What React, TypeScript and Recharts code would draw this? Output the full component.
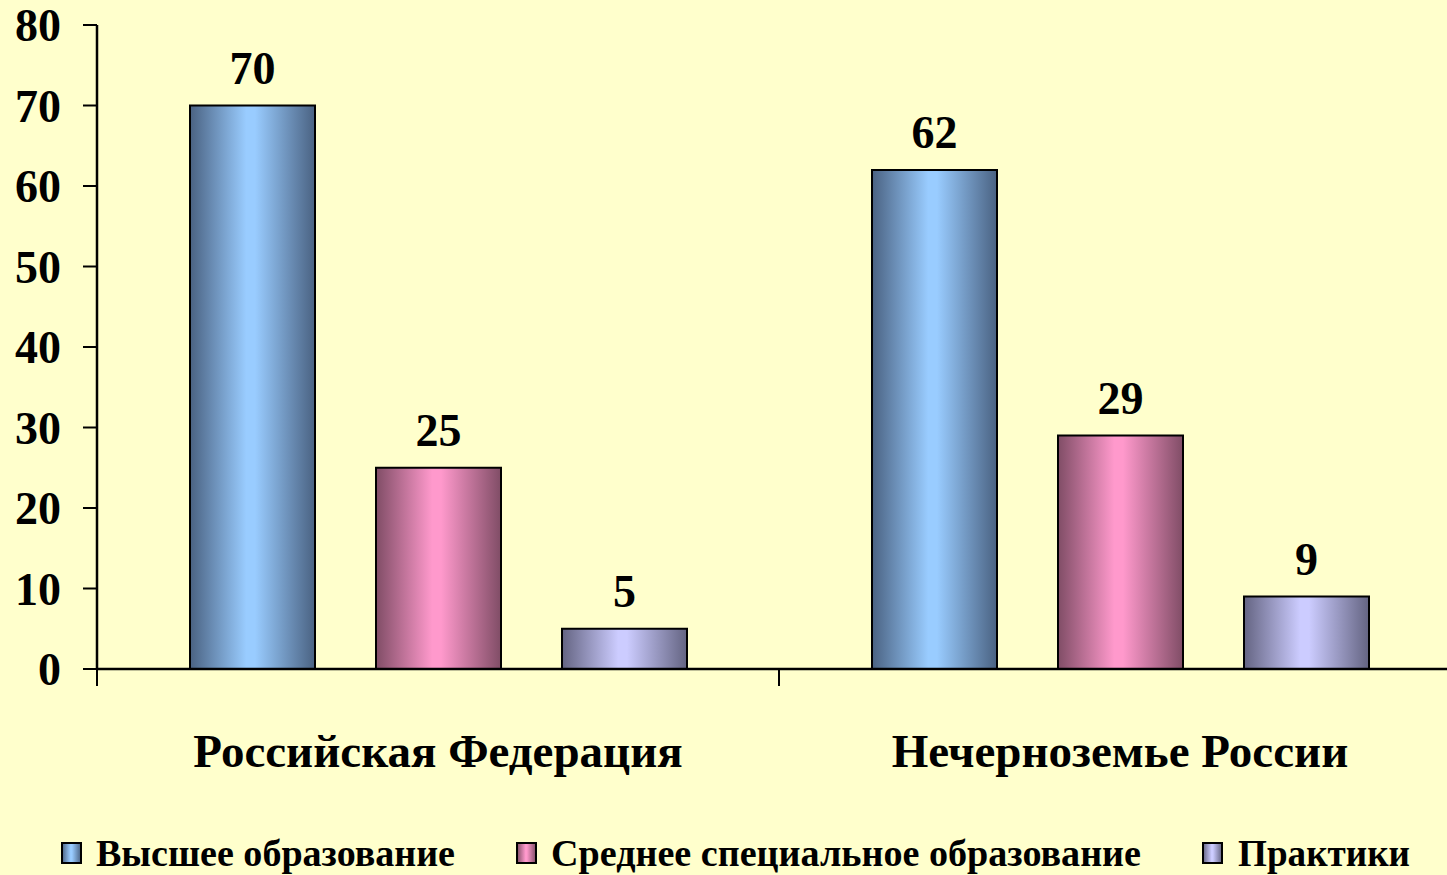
import React from 'react';
import { BarChart, Bar, XAxis, YAxis, LabelList, Legend } from 'recharts';

const categories = ['Российская Федерация', 'Нечерноземье России'];
const higherEducation = [70, 62];
const secondarySpecial = [25, 29];
const practitioners = [5, 9];
const seriesNames = ['Высшее образование', 'Среднее специальное образование', 'Практики'];
const yTicks = [0, 10, 20, 30, 40, 50, 60, 70, 80];

const data = categories.map((c, i) => ({
  name: c,
  higher: higherEducation[i],
  secondary: secondarySpecial[i],
  practice: practitioners[i],
}));

const FONT = "'Liberation Serif', 'Times New Roman', serif";
const BG = '#FFFFCC';
const CHART_W = 1461;
const CHART_H = 875;
const Y_W = 97;
const HALF_BAND = (CHART_W - Y_W) / categories.length / 2;

const gradients = [
  { id: 'gBlue', dark: '#4a6282', light: '#99ccff' },
  { id: 'gPink', dark: '#804d66', light: '#ff99cc' },
  { id: 'gLav', dark: '#646482', light: '#ccccff' },
];

const renderGradients = (prefix: string) =>
  gradients.map((g) => (
    <linearGradient key={g.id} id={prefix + g.id} x1="0" y1="0" x2="1" y2="0">
      <stop offset="0" stopColor={g.dark} />
      <stop offset="0.45" stopColor={g.light} />
      <stop offset="0.52" stopColor={g.light} />
      <stop offset="1" stopColor={g.dark} />
    </linearGradient>
  ));

const CategoryTick = (props: any) => {
  const { x, y, payload } = props;
  return (
    <g>
      <line x1={x - HALF_BAND} y1={y} x2={x - HALF_BAND} y2={y + 17} stroke="#000" strokeWidth={2} />
      <text x={x} y={y + 98} textAnchor="middle" fontFamily={FONT} fontWeight="bold" fontSize={47} fill="#000">
        {payload.value}
      </text>
    </g>
  );
};

const legendLayout = [
  { sq: 62, tx: 96, len: 359 },
  { sq: 517, tx: 551, len: 590 },
  { sq: 1203, tx: 1238, len: 172 },
];

const LegendContent = () => (
  <svg width={1447} height={60} style={{ display: 'block' }}>
    <defs>{renderGradients('lg')}</defs>
    {seriesNames.map((n, i) => (
      <g key={n}>
        <rect x={legendLayout[i].sq} y={28} width={19} height={20} fill={`url(#lg${gradients[i].id})`} stroke="#000" strokeWidth={2} />
        <text
          x={legendLayout[i].tx}
          y={51}
          fontFamily={FONT}
          fontWeight="bold"
          fontSize={38}
          fill="#000"
          textLength={legendLayout[i].len}
          lengthAdjust="spacingAndGlyphs"
        >
          {n}
        </text>
      </g>
    ))}
  </svg>
);

const seriesKeys = ['higher', 'secondary', 'practice'];

export default function App() {
  return (
    <div style={{ position: 'absolute', left: 0, top: 0, width: 1447, height: 875, overflow: 'hidden', background: BG }}>
      <BarChart
        width={CHART_W}
        height={CHART_H}
        data={data}
        margin={{ top: 25, right: 0, left: 0, bottom: 0 }}
        barCategoryGap={93}
        barGap={61}
      >
        <defs>{renderGradients('b')}</defs>
        <YAxis
          width={Y_W}
          domain={[0, 80]}
          ticks={yTicks}
          interval={0}
          axisLine={{ stroke: '#000', strokeWidth: 2.5 }}
          tickLine={{ stroke: '#000', strokeWidth: 2 }}
          tickSize={14}
          tickMargin={22}
          tick={{ fontFamily: FONT, fontWeight: 'bold', fontSize: 46, fill: '#000' }}
        />
        <XAxis
          dataKey="name"
          height={146}
          axisLine={{ stroke: '#000', strokeWidth: 2.5 }}
          tickLine={false}
          tickSize={0}
          tickMargin={0}
          interval={0}
          tick={<CategoryTick />}
        />
        <Legend
          verticalAlign="bottom"
          height={60}
          wrapperStyle={{ left: 0, bottom: 0, width: 1447, height: 60 }}
          content={<LegendContent />}
        />
        {seriesKeys.map((k, i) => (
          <Bar
            key={k}
            dataKey={k}
            name={seriesNames[i]}
            fill={`url(#b${gradients[i].id})`}
            stroke="#000"
            strokeWidth={2}
            isAnimationActive={false}
          >
            <LabelList
              dataKey={k}
              position="top"
              offset={22}
              fontFamily={FONT}
              fontWeight="bold"
              fontSize={46}
              fill="#000"
            />
          </Bar>
        ))}
      </BarChart>
    </div>
  );
}
